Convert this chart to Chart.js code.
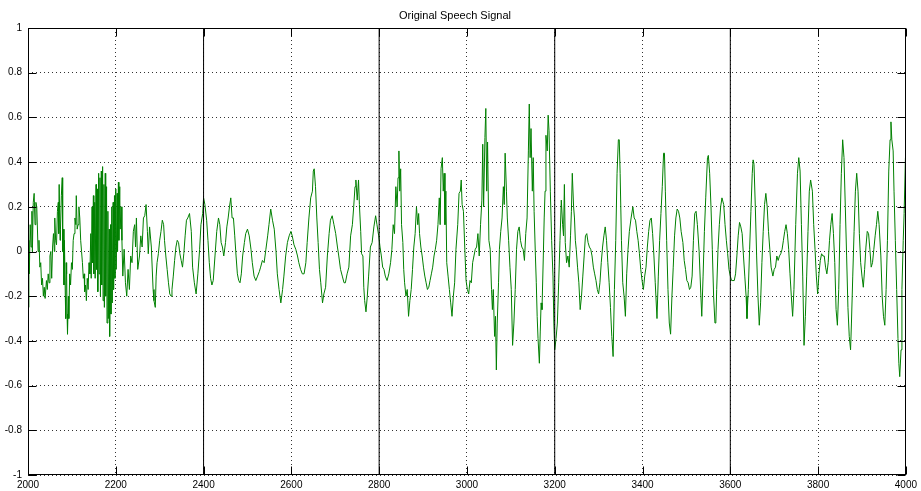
<!DOCTYPE html>
<html>
<head>
<meta charset="utf-8">
<script src="https://cdn.jsdelivr.net/npm/chart.js@4/dist/chart.umd.min.js"></script>
<style>
html,body{margin:0;padding:0;background:#fff;}
#wrap{width:921px;height:491px;position:relative;}
</style>
</head>
<body>
<div id="wrap"><canvas id="c" width="921" height="491"></canvas></div>
<script>
const chartTitle = 'Original Speech Signal';

// [sample index, amplitude]
const speechSamples = [
[2000,-0.25],[2002,0.05],[2003,-0.1],[2005,0.12],[2007,0.02],[2009,0.18],[2010,0.0],[2012,0.22],[2014,0.26],[2016,0.12],[2018,0.22],[2020,0.2],[2023,0.0],[2025,0.05],[2027,-0.07],[2029,-0.05],[2031,-0.15],[2033,-0.12],[2035,-0.2],[2037,-0.16],[2039,-0.21],[2042,-0.13],[2044,-0.17],[2046,-0.1],[2048,-0.14],[2050,-0.02],[2052,0.0],[2054,-0.12],[2056,0.02],[2058,0.08],[2060,0.0],[2061,0.15],[2063,0.05],[2065,0.03],[2067,0.18],[2069,0.22],[2070,0.08],[2071,0.3],[2073,0.05],[2074,0.1],[2076,0.25],[2078,0.33],[2079,0.0],[2080,0.1],[2082,-0.15],[2083,0.05],[2085,-0.2],[2086,-0.3],[2087,-0.05],[2088,-0.1],[2089,-0.28],[2090,-0.37],[2092,-0.2],[2093,-0.3],[2095,-0.1],[2097,-0.15],[2099,-0.05],[2101,-0.08],[2103,0.05],[2105,0.08],[2107,0.15],[2109,0.12],[2110,0.25],[2112,0.1],[2114,0.12],[2116,0.2],[2118,0.15],[2120,0.05],[2122,0.0],[2124,-0.05],[2126,-0.12],[2128,-0.1],[2129,-0.18],[2131,-0.15],[2133,-0.22],[2135,-0.12],[2137,-0.17],[2139,-0.05],
[2141,-0.1],[2143,0.08],[2144,-0.12],[2146,0.2],[2147,-0.05],[2149,0.25],[2150,-0.1],[2152,0.22],[2153,-0.12],[2155,0.3],[2156,-0.08],[2158,0.28],[2159,-0.18],[2161,0.35],[2162,-0.1],[2164,0.33],[2165,-0.2],[2167,0.36],[2168,-0.15],[2170,0.38],[2171,-0.22],[2173,0.3],[2174,-0.25],[2176,0.35],[2177,-0.2],[2179,0.29],[2180,-0.32],[2182,0.18],[2183,-0.3],[2185,0.1],[2186,-0.38],[2188,0.12],[2189,-0.28],[2191,0.2],[2192,-0.23],[2194,0.22],[2195,-0.17],[2197,0.25],[2198,-0.12],[2200,0.28],[2201,-0.08],[2203,0.26],[2204,0.0],[2206,0.31],[2207,0.05],[2209,0.29],[2210,0.1],[2212,0.2],[2214,0.05],
[2216,-0.11],[2219,0.01],[2222,-0.14],[2225,-0.2],[2228,-0.08],[2231,-0.17],[2234,-0.02],[2237,-0.05],[2240,0.09],[2243,0.12],[2245,0.02],[2247,0.15],[2250,-0.08],[2254,-0.02],[2257,0.07],[2260,0.02],[2263,0.15],[2266,0.16],[2269,0.21],[2272,0.09],[2274,-0.01],[2277,0.11],[2281,0.02],[2285,-0.17],[2287,-0.22],[2290,-0.25],[2292,-0.11],[2294,-0.05],[2297,-0.01],[2300,0.05],[2303,0.09],[2306,0.14],[2309,0.12],[2311,0.05],[2314,-0.02],[2317,-0.08],[2320,-0.14],[2323,-0.19],[2326,-0.2],[2328,-0.17],[2331,-0.11],[2334,-0.04],[2337,0.02],[2340,0.05],[2343,0.04],[2346,-0.01],[2349,-0.04],[2352,-0.07],[2355,-0.01],[2358,0.07],[2361,0.14],[2364,0.15],
[2368,0.17],[2372,0.09],[2375,-0.07],[2379,-0.14],[2383,-0.19],[2387,-0.1],[2391,0.01],[2394,0.12],[2398,0.17],[2400,0.24],[2403,0.21],[2407,0.14],[2410,0.05],[2413,-0.05],[2416,-0.12],[2419,-0.15],[2422,-0.13],[2426,-0.02],[2430,0.09],[2434,0.15],[2437,0.12],[2440,0.04],[2443,0.02],[2446,-0.02],[2450,0.04],[2453,0.11],[2456,0.15],[2459,0.2],[2462,0.24],[2465,0.15],[2468,0.15],[2471,0.07],[2474,-0.02],[2477,-0.1],[2480,-0.13],[2483,-0.14],[2486,-0.1],[2489,-0.02],[2493,0.04],[2496,0.08],[2500,0.1],[2504,0.07],[2508,0.01],[2511,-0.05],[2515,-0.11],[2519,-0.13],[2523,-0.11],[2527,-0.09],[2530,-0.07],[2534,-0.04],[2538,-0.05],[2542,0.01],[2546,0.07],[2549,0.12],[2553,0.19],[2557,0.14],
[2561,0.1],[2565,0.0],[2568,-0.1],[2572,-0.17],[2576,-0.23],[2580,-0.17],[2583,-0.11],[2587,-0.02],[2591,0.04],[2595,0.07],[2599,0.09],[2602,0.07],[2606,0.03],[2610,0.01],[2614,-0.02],[2617,-0.05],[2621,-0.08],[2625,-0.1],[2629,-0.1],[2633,-0.05],[2636,0.04],[2640,0.15],[2644,0.24],[2648,0.27],[2650,0.36],[2652,0.37],[2655,0.29],[2658,0.15],[2661,0.04],[2664,-0.08],[2667,-0.14],[2671,-0.23],[2674,-0.19],[2678,-0.16],[2682,-0.02],[2686,0.08],[2689,0.14],[2693,0.16],[2697,0.12],[2701,0.08],[2705,0.02],[2708,-0.02],[2712,-0.08],[2716,-0.11],[2720,-0.14],[2723,-0.14],[2727,-0.1],[2731,-0.07],[2735,0.07],[2739,0.12],[2742,0.2],[2745,0.29],[2747,0.32],[2750,0.23],[2753,0.32],
[2755,0.21],[2758,0.09],[2760,-0.01],[2763,-0.02],[2765,-0.16],[2767,-0.22],[2770,-0.27],[2773,-0.2],[2776,-0.11],[2780,0.02],[2784,0.04],[2788,0.11],[2792,0.16],[2795,0.12],[2799,0.07],[2802,0.02],[2805,-0.02],[2808,-0.07],[2811,-0.08],[2814,-0.11],[2818,-0.13],[2822,-0.1],[2826,-0.05],[2829,0.01],[2832,0.12],[2835,0.08],[2838,0.29],[2841,0.2],[2843,0.33],[2845,0.45],[2847,0.27],[2849,0.37],[2851,0.12],[2854,0.04],[2856,-0.08],[2858,-0.14],[2861,-0.2],[2864,-0.17],[2867,-0.29],[2870,-0.22],[2873,-0.17],[2876,-0.08],[2879,0.02],[2882,0.08],[2885,0.2],[2888,0.12],[2890,0.17],[2892,0.08],[2895,0.02],[2898,-0.02],[2901,-0.07],[2904,-0.11],[2907,-0.14],[2910,-0.17],[2913,-0.16],[2916,-0.13],[2919,-0.1],[2922,-0.07],[2925,-0.02],[2928,0.01],[2931,0.05],[2934,0.12],[2937,0.24],[2939,0.12],[2941,0.37],[2944,0.42],[2946,0.27],[2948,0.35],[2950,0.12],[2952,0.27],
[2954,-0.05],[2957,-0.11],[2960,-0.17],[2963,-0.23],[2966,-0.29],[2969,-0.2],[2972,-0.14],[2975,0.01],[2979,0.12],[2982,0.26],[2985,0.27],[2987,0.32],[2989,0.21],[2992,0.18],[2995,0.02],[2998,-0.13],[3001,-0.17],[3004,-0.19],[3007,-0.13],[3010,-0.14],[3013,-0.05],[3016,-0.02],[3019,0.01],[3022,0.02],[3025,0.08],[3028,-0.02],[3031,0.12],[3034,0.23],[3036,0.48],[3038,0.2],[3041,0.51],[3043,0.64],[3045,0.27],[3047,0.49],[3050,0.05],[3053,0.01],[3056,-0.17],[3058,-0.26],[3060,-0.17],[3063,-0.38],[3065,-0.29],[3067,-0.53],[3069,-0.32],[3072,-0.14],[3074,0.01],[3077,0.09],[3080,0.15],[3083,0.29],[3085,0.21],[3087,0.44],[3090,0.27],[3092,0.15],[3095,0.05],[3098,-0.07],[3101,-0.17],[3104,-0.42],[3107,-0.32],[3110,-0.17],[3113,0.01],[3116,0.09],[3119,0.11],[3122,0.05],[3125,0.02],[3128,0.01],[3131,-0.04],[3134,0.08],[3137,0.15],[3140,0.45],[3142,0.66],
[3144,0.42],[3146,0.55],[3149,0.27],[3151,0.42],[3153,0.18],[3156,-0.02],[3158,-0.14],[3160,-0.29],[3162,-0.39],[3165,-0.5],[3167,-0.36],[3169,-0.23],[3171,-0.26],[3174,-0.02],[3176,0.15],[3178,0.27],[3180,0.52],[3183,0.45],[3185,0.61],[3187,0.54],[3190,0.27],[3193,0.05],[3196,-0.11],[3198,-0.32],[3200,-0.44],[3203,-0.39],[3206,-0.32],[3209,-0.14],[3212,0.05],[3215,0.23],[3218,0.12],[3220,0.07],[3222,0.3],[3224,0.04],[3227,-0.05],[3230,-0.02],[3233,-0.07],[3236,0.07],[3238,0.18],[3240,0.35],[3243,0.2],[3245,0.15],[3247,0.05],[3249,0.01],[3252,-0.07],[3255,-0.14],[3258,-0.26],[3261,-0.2],[3264,-0.11],[3267,-0.02],[3270,0.07],[3273,0.08],[3276,0.04],[3279,0.02],[3282,0.01],[3285,-0.02],[3288,-0.07],[3291,-0.1],[3294,-0.13],[3297,-0.17],[3300,-0.19],[3303,-0.14],[3306,-0.05],[3309,0.02],[3312,0.07],[3315,0.11],[3318,0.05],[3321,-0.05],[3324,-0.14],[3327,-0.25],[3330,-0.38],[3333,-0.47],
[3336,-0.17],[3339,0.05],[3342,0.35],[3345,0.5],[3347,0.5],[3349,0.35],[3352,0.05],[3355,-0.14],[3358,-0.2],[3361,-0.29],[3364,-0.1],[3367,0.01],[3370,0.09],[3374,0.15],[3378,0.2],[3381,0.15],[3384,0.14],[3387,0.09],[3390,0.05],[3393,-0.01],[3396,-0.08],[3399,-0.13],[3402,-0.17],[3405,-0.11],[3408,-0.07],[3411,0.02],[3414,0.09],[3417,0.14],[3420,0.15],[3423,0.08],[3426,-0.02],[3429,-0.14],[3433,-0.3],[3436,-0.11],[3439,0.05],[3442,0.17],[3445,0.29],[3448,0.44],[3450,0.44],[3452,0.27],[3455,0.05],[3458,-0.17],[3461,-0.32],[3464,-0.37],[3467,-0.2],[3470,-0.07],[3473,0.07],[3476,0.15],[3479,0.19],[3482,0.18],[3485,0.15],[3488,0.09],[3492,0.04],[3495,-0.04],[3498,-0.08],[3501,-0.13],[3504,-0.14],[3507,-0.17],[3510,-0.16],[3513,-0.11],[3516,0.05],[3519,0.17],[3522,0.18],[3525,0.12],[3529,0.0],[3533,-0.2],[3535,-0.29],
[3538,-0.11],[3541,0.09],[3544,0.24],[3548,0.42],[3550,0.43],[3553,0.35],[3556,0.2],[3559,0.01],[3562,-0.2],[3565,-0.32],[3567,-0.32],[3569,-0.17],[3572,0.01],[3575,0.12],[3578,0.2],[3581,0.24],[3585,0.21],[3588,0.12],[3591,0.05],[3594,-0.01],[3597,-0.08],[3600,-0.11],[3603,-0.13],[3606,-0.13],[3609,-0.13],[3612,-0.1],[3615,-0.02],[3618,0.07],[3621,0.13],[3624,0.11],[3627,0.08],[3630,-0.02],[3633,-0.11],[3636,-0.2],[3638,-0.3],[3641,-0.17],[3644,0.01],[3647,0.18],[3650,0.35],[3652,0.41],[3654,0.39],[3657,0.2],[3660,-0.02],[3663,-0.2],[3666,-0.33],[3669,-0.23],[3672,-0.05],[3675,0.09],[3678,0.21],[3681,0.26],[3684,0.2],[3687,0.09],[3690,0.01],[3693,-0.07],[3697,-0.11],[3700,-0.08],[3703,-0.07],[3706,-0.02],[3709,-0.04],[3712,-0.02],[3715,-0.01],[3718,0.01],[3721,0.05],[3724,0.09],[3727,0.12],[3730,0.08],[3733,0.01],[3736,-0.1],[3739,-0.2],[3742,-0.29],
[3745,-0.17],[3749,0.12],[3753,0.35],[3756,0.42],[3759,0.36],[3762,0.12],[3765,-0.11],[3768,-0.42],[3771,-0.29],[3774,-0.11],[3777,0.09],[3780,0.27],[3783,0.32],[3787,0.27],[3790,0.12],[3793,0.01],[3796,-0.11],[3799,-0.19],[3802,-0.1],[3805,-0.04],[3808,-0.01],[3811,-0.02],[3814,-0.02],[3817,-0.07],[3820,-0.1],[3823,-0.05],[3826,0.05],[3829,0.12],[3832,0.17],[3835,0.08],[3838,-0.05],[3841,-0.26],[3844,-0.33],[3847,-0.17],[3850,0.12],[3853,0.35],[3856,0.5],[3859,0.42],[3862,0.2],[3865,-0.02],[3868,-0.25],[3871,-0.38],[3874,-0.44],[3876,-0.32],[3879,-0.11],[3882,0.09],[3885,0.27],[3888,0.35],[3891,0.27],[3894,0.08],[3897,-0.05],[3900,-0.11],[3903,-0.16],[3906,-0.08],[3909,0.02],[3912,0.09],[3915,0.08],[3918,0.01],[3921,-0.07],[3924,-0.05],[3927,0.01],[3930,0.07],[3933,0.12],[3936,0.18],[3939,0.12],[3943,-0.02],[3946,-0.2],[3949,-0.29],[3952,-0.33],[3955,-0.17],[3958,0.05],[3961,0.36],[3964,0.5],[3966,0.58],[3968,0.5],[3971,0.45],[3973,0.27],[3976,0.05],[3979,-0.17],[3982,-0.39],[3984,-0.5],[3986,-0.56],[3989,-0.44],[3991,-0.17],[3994,0.05],[3996,0.17],[3999,0.42]
];

const frameBounds = [2400, 2800, 3200, 3600];
const xTicks = [2000, 2200, 2400, 2600, 2800, 3000, 3200, 3400, 3600, 3800, 4000];
const yTicks = [-1, -0.8, -0.6, -0.4, -0.2, 0, 0.2, 0.4, 0.6, 0.8, 1];
const yTickLabels = ['-1', '-0.8', '-0.6', '-0.4', '-0.2', '0', '0.2', '0.4', '0.6', '0.8', '1'];
const xTickLabels = ['2000', '2200', '2400', '2600', '2800', '3000', '3200', '3400', '3600', '3800', '4000'];

const FONT = "'Liberation Sans', Arial, Helvetica, sans-serif";

const signalPoints = speechSamples.map(p => ({ x: p[0], y: p[1] }));
const yLo = yTicks[0], yHi = yTicks[yTicks.length - 1];
const frameDatasets = frameBounds.map(b => ({
  label: 'frame ' + b,
  data: [{ x: b, y: yLo }, { x: b, y: yHi }],
  borderColor: '#000',
  borderWidth: 1,
  pointRadius: 0,
  tension: 0
}));

const axesBox = {
  id: 'axesBox',
  afterDatasetsDraw(chart) {
    const { ctx, chartArea: a, scales: { x, y } } = chart;
    ctx.save();
    ctx.strokeStyle = '#000';
    ctx.lineWidth = 1;
    const L = Math.round(a.left) + 0.5, R = Math.round(a.right) - 0.5;
    const T = Math.round(a.top) + 0.5, B = Math.round(a.bottom) - 0.5;
    ctx.strokeRect(L, T, R - L, B - T);
    const tl = 8;
    ctx.beginPath();
    xTicks.forEach(v => {
      const px = Math.round(x.getPixelForValue(v)) + 0.5;
      ctx.moveTo(px, B); ctx.lineTo(px, B - tl);
      ctx.moveTo(px, T); ctx.lineTo(px, T + tl);
    });
    yTicks.forEach(v => {
      const py = Math.round(y.getPixelForValue(v)) + 0.5;
      ctx.moveTo(L, py); ctx.lineTo(L + tl, py);
      ctx.moveTo(R, py); ctx.lineTo(R - tl, py);
    });
    ctx.stroke();
    ctx.restore();
  }
};

new Chart(document.getElementById('c'), {
  type: 'line',
  data: {
    datasets: [
      ...frameDatasets,
      {
        label: chartTitle,
        data: signalPoints,
        borderColor: 'rgb(0,128,0)',
        borderWidth: 1,
        pointRadius: 0,
        tension: 0
      }
    ]
  },
  options: {
    responsive: false,
    animation: false,
    events: [],
    layout: { padding: { left: 0, right: 11, top: 0, bottom: 0 } },
    plugins: {
      legend: { display: false },
      tooltip: { enabled: false },
      title: {
        display: true,
        text: chartTitle,
        color: '#000',
        font: { family: FONT, size: 11, weight: 'normal' },
        padding: { top: 9, bottom: 5.8 }
      }
    },
    scales: {
      x: {
        type: 'linear',
        min: xTicks[0],
        max: xTicks[xTicks.length - 1],
        afterBuildTicks: s => { s.ticks = xTicks.map(v => ({ value: v })); },
        afterFit: s => { s.height = 16; },
        ticks: {
          color: '#000',
          font: { family: FONT, size: 10 },
          padding: 4,
          maxRotation: 0,
          autoSkip: false,
          callback: (v, i) => xTickLabels[i]
        },
        grid: { color: '#333', lineWidth: 1, drawTicks: false },
        border: { display: false, dash: [1, 3] }
      },
      y: {
        type: 'linear',
        min: yLo,
        max: yHi,
        afterBuildTicks: s => { s.ticks = yTicks.map(v => ({ value: v })); },
        afterFit: s => { s.width = 28; },
        ticks: {
          color: '#000',
          font: { family: FONT, size: 10 },
          padding: 6,
          autoSkip: false,
          callback: (v, i) => yTickLabels[i]
        },
        grid: { color: '#333', lineWidth: 1, drawTicks: false },
        border: { display: false, dash: [1, 3] }
      }
    }
  },
  plugins: [axesBox]
});
</script>
</body>
</html>
